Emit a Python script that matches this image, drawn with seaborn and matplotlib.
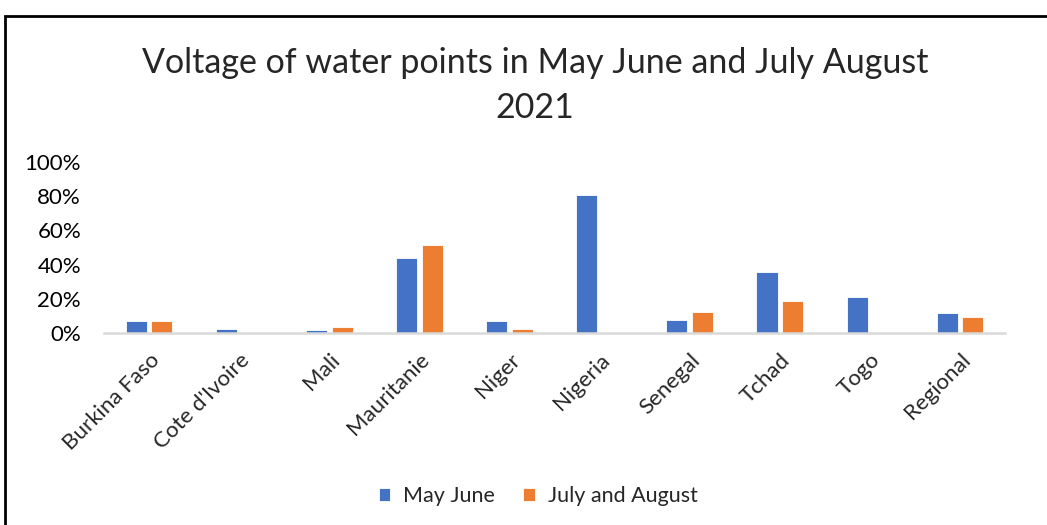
import matplotlib
matplotlib.use("Agg")
import matplotlib.pyplot as plt
import seaborn as sns
import pandas as pd
from matplotlib.ticker import PercentFormatter
from matplotlib.patches import Rectangle

countries = ["Burkina Faso", "Cote d'Ivoire", "Mali", "Mauritanie", "Niger",
             "Nigeria", "Senegal", "Tchad", "Togo", "Regional"]
may_june = [0.07, 0.025, 0.015, 0.44, 0.068, 0.805, 0.076, 0.355, 0.212, 0.117]
july_august = [0.07, 0.0, 0.035, 0.513, 0.023, 0.0, 0.125, 0.187, 0.0, 0.094]
series_names = ["May June", "July and August"]
colors = ["#4472C4", "#ED7D31"]
yticks = [0, 0.2, 0.4, 0.6, 0.8, 1.0]

df = pd.DataFrame({
    "country": countries * 2,
    "value": may_june + july_august,
    "period": [series_names[0]] * len(countries) + [series_names[1]] * len(countries),
})

sns.set_theme(style="white")
plt.rcParams["font.family"] = ["Lato", "DejaVu Sans"]

fig = plt.figure(figsize=(10.47, 5.25), dpi=100)
ax = fig.add_axes([0.0993, 0.3657, 0.8607, 0.3257])

sns.barplot(data=df, x="country", y="value", hue="period", palette=colors,
            saturation=1, width=0.57, gap=0.18, edgecolor="white", linewidth=0.6,
            legend=True, ax=ax)

ax.set_xlim(-0.5, len(countries) - 0.5)
ax.set_ylim(0, 1.0)
ax.set_yticks(yticks)
ax.yaxis.set_major_formatter(PercentFormatter(1.0, decimals=0))
ax.set_xlabel("")
ax.set_ylabel("")
for s in ["top", "right", "left"]:
    ax.spines[s].set_visible(False)
ax.spines["bottom"].set_color("#D9D9D9")
ax.spines["bottom"].set_linewidth(1.8)
ax.tick_params(axis="y", labelsize=16, pad=16.5, length=0, colors="#000000")
ax.tick_params(axis="x", labelsize=16, length=0, pad=12)
plt.setp(ax.get_xticklabels(), rotation=45, ha="right", va="top",
         rotation_mode="anchor")

ax.legend(loc="center", bbox_to_anchor=(0.514, 0.055), bbox_transform=fig.transFigure,
          ncol=2, frameon=False, fontsize=15.5, handlelength=0.55, handleheight=0.55,
          handletextpad=0.6, columnspacing=1.3)

fig.text(0.511, 0.880, "Voltage of water points in May June and July August",
         ha="center", va="center", fontsize=24.5)
fig.text(0.511, 0.795, "2021", ha="center", va="center", fontsize=24.5)

# chart-area frame along the top and left edges
fig.patches.append(Rectangle((5 / 1047, -0.1), 1.2, (525 - 16) / 525 + 0.1,
                             transform=fig.transFigure, fill=False,
                             edgecolor="black", linewidth=2.0))

fig.savefig("out.png", dpi=100)
